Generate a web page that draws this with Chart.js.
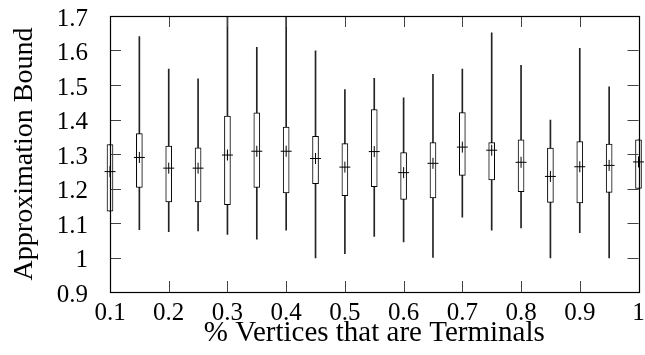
<!DOCTYPE html>
<html>
<head>
<meta charset="utf-8">
<script src="https://cdn.jsdelivr.net/npm/chart.js@4"></script>
<style>
  html, body { margin: 0; padding: 0; background: #fff; }
  #wrap { width: 645px; height: 355px; }
</style>
</head>
<body>
<div id="wrap"><canvas id="c" width="645" height="355"></canvas></div>
<script>
// ===== data =====
const terminals   = [0.1, 0.15, 0.2, 0.25, 0.3, 0.35, 0.4, 0.45, 0.5, 0.55, 0.6, 0.65, 0.7, 0.75, 0.8, 0.85, 0.9, 0.95, 1.0];
const whiskerLow  = [1.134, 1.081, 1.075, 1.077, 1.067, 1.053, 1.079, 0.999, 1.011, 1.061, 1.045, 1.000, 1.117, 1.079, 1.086, 0.999, 1.072, 0.999, 1.200];
const boxLow      = [1.134, 1.203, 1.161, 1.161, 1.153, 1.203, 1.187, 1.214, 1.179, 1.205, 1.168, 1.173, 1.238, 1.225, 1.191, 1.160, 1.158, 1.189, 1.200];
const middle      = [1.249, 1.290, 1.259, 1.259, 1.297, 1.308, 1.308, 1.287, 1.262, 1.307, 1.246, 1.273, 1.320, 1.311, 1.276, 1.235, 1.263, 1.267, 1.277];
const boxHigh     = [1.327, 1.359, 1.323, 1.318, 1.410, 1.419, 1.378, 1.351, 1.330, 1.429, 1.304, 1.333, 1.420, 1.333, 1.341, 1.317, 1.336, 1.329, 1.341];
const whiskerHigh = [1.327, 1.640, 1.546, 1.518, 1.750, 1.609, 1.750, 1.599, 1.487, 1.519, 1.463, 1.531, 1.546, 1.651, 1.557, 1.398, 1.606, 1.495, 1.341];

const FONT = 'Liberation Serif, Times New Roman, serif';
const clipArea = { left: 10, right: 10, top: 0, bottom: 0 };
const fmt = v => String(+v.toFixed(2));

// inward ticks on all four sides plus the frame
const framePlugin = {
    id: 'frame',
    afterDatasetsDraw(chart) {
        const { ctx, chartArea: a, scales: { x, y } } = chart;
        const len = 11;
        ctx.save();
        ctx.lineWidth = 1;
        ctx.strokeStyle = '#444';
        ctx.beginPath();
        x.ticks.forEach(t => {
            const px = Math.round(x.getPixelForValue(t.value)) + 0.5;
            ctx.moveTo(px, a.bottom); ctx.lineTo(px, a.bottom - len);
            ctx.moveTo(px, a.top); ctx.lineTo(px, a.top + len);
        });
        y.ticks.forEach(t => {
            const py = Math.round(y.getPixelForValue(t.value)) + 0.5;
            ctx.moveTo(a.left, py); ctx.lineTo(a.left + len, py);
            ctx.moveTo(a.right, py); ctx.lineTo(a.right - len, py);
        });
        ctx.stroke();
        ctx.strokeStyle = '#000';
        ctx.lineWidth = 1.2;
        ctx.strokeRect(Math.round(a.left) + 0.5, Math.round(a.top) + 0.5,
            Math.round(a.right - a.left), Math.round(a.bottom - a.top));
        ctx.restore();
    }
};

new Chart(document.getElementById('c'), {
    type: 'bar',
    data: {
        datasets: [
            {
                type: 'scatter',
                data: terminals.map((t, i) => ({ x: t, y: middle[i] })),
                pointStyle: 'cross', pointRadius: 5.5, pointHoverRadius: 5.5,
                borderColor: '#000', borderWidth: 1, backgroundColor: '#000',
                clip: clipArea, order: 1
            },
            {
                data: terminals.map((t, i) => ({ x: t, y: [boxLow[i], boxHigh[i]] })),
                backgroundColor: '#fff', borderColor: '#000', borderWidth: 1,
                borderSkipped: false, barThickness: 6, grouped: false,
                clip: clipArea, order: 2
            },
            {
                data: terminals.map((t, i) => ({ x: t, y: [whiskerLow[i], whiskerHigh[i]] })),
                backgroundColor: '#222', borderWidth: 0,
                barThickness: 1, grouped: false,
                clip: clipArea, order: 3
            }
        ]
    },
    options: {
        responsive: false,
        animation: false,
        layout: { padding: { top: 16, right: 5, left: 0, bottom: 0 } },
        plugins: { legend: { display: false }, tooltip: { enabled: false } },
        scales: {
            x: {
                type: 'linear', min: 0.1, max: 1.0, offset: false,
                grid: { display: false, drawTicks: false }, border: { display: false },
                ticks: { stepSize: 0.1, padding: 6, color: '#000', font: { family: FONT, size: 25 }, maxRotation: 0, callback: fmt },
                title: { display: true, text: '% Vertices that are Terminals', color: '#000',
                    font: { family: FONT, size: 29 }, padding: { top: 0, bottom: 4 } },
                afterFit(s) { s.height = 63; s.paddingLeft = 0; s.paddingRight = 0; }
            },
            y: {
                min: 0.9, max: 1.7,
                grid: { display: false, drawTicks: false }, border: { display: false },
                ticks: { stepSize: 0.1, padding: 22, labelOffset: 3, color: '#000', font: { family: FONT, size: 25 }, callback: fmt },
                title: { display: true, text: 'Approximation Bound', color: '#000',
                    font: { family: FONT, size: 28 }, padding: { top: 8, bottom: 0 } },
                afterFit(s) { s.width = 110; s.paddingTop = 0; s.paddingBottom = 0; }
            }
        }
    },
    plugins: [framePlugin]
});
</script>
</body>
</html>
